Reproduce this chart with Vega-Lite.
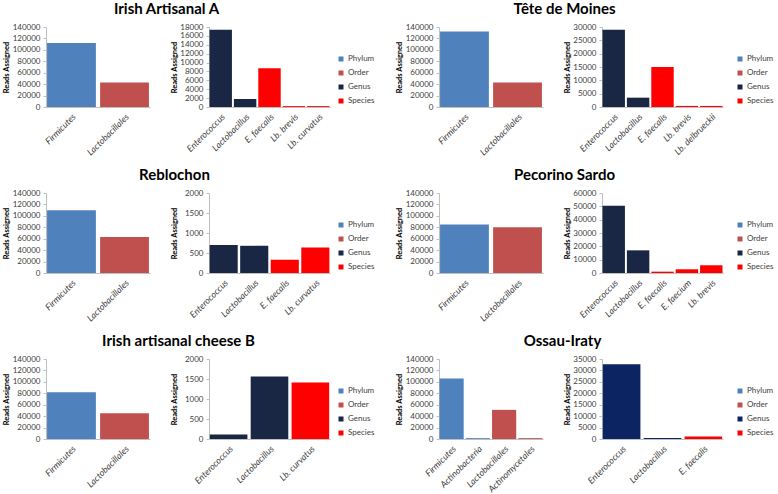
{
  "$schema": "https://vega.github.io/schema/vega-lite/v6.json",
  "padding": {"left": 2, "top": 2, "right": 0, "bottom": 0},
  "background": "white",
  "datasets": {
    "reads": [
      {"cheese": "A", "side": "L", "taxon": "Firmicutes", "level": "Phylum", "reads": 112000},
      {"cheese": "A", "side": "L", "taxon": "Lactobacillales", "level": "Order", "reads": 43000},
      {"cheese": "A", "side": "R", "taxon": "Enterococcus", "level": "Genus", "reads": 17400},
      {"cheese": "A", "side": "R", "taxon": "Lactobacillus", "level": "Genus", "reads": 1800},
      {"cheese": "A", "side": "R", "taxon": "E. faecalis", "level": "Species", "reads": 8700},
      {"cheese": "A", "side": "R", "taxon": "Lb. brevis", "level": "Species", "reads": 200},
      {"cheese": "A", "side": "R", "taxon": "Lb. curvatus", "level": "Species", "reads": 200},
      {"cheese": "T", "side": "L", "taxon": "Firmicutes", "level": "Phylum", "reads": 132000},
      {"cheese": "T", "side": "L", "taxon": "Lactobacillales", "level": "Order", "reads": 43000},
      {"cheese": "T", "side": "R", "taxon": "Enterococcus", "level": "Genus", "reads": 29000},
      {"cheese": "T", "side": "R", "taxon": "Lactobacillus", "level": "Genus", "reads": 3500},
      {"cheese": "T", "side": "R", "taxon": "E. faecalis", "level": "Species", "reads": 15000},
      {"cheese": "T", "side": "R", "taxon": "Lb. brevis", "level": "Species", "reads": 400},
      {"cheese": "T", "side": "R", "taxon": "Lb. delbrueckii", "level": "Species", "reads": 400},
      {"cheese": "R", "side": "L", "taxon": "Firmicutes", "level": "Phylum", "reads": 110000},
      {"cheese": "R", "side": "L", "taxon": "Lactobacillales", "level": "Order", "reads": 63000},
      {"cheese": "R", "side": "R", "taxon": "Enterococcus", "level": "Genus", "reads": 700},
      {"cheese": "R", "side": "R", "taxon": "Lactobacillus", "level": "Genus", "reads": 680},
      {"cheese": "R", "side": "R", "taxon": "E. faecalis", "level": "Species", "reads": 330},
      {"cheese": "R", "side": "R", "taxon": "Lb. curvatus", "level": "Species", "reads": 640},
      {"cheese": "P", "side": "L", "taxon": "Firmicutes", "level": "Phylum", "reads": 85000},
      {"cheese": "P", "side": "L", "taxon": "Lactobacillales", "level": "Order", "reads": 80000},
      {"cheese": "P", "side": "R", "taxon": "Enterococcus", "level": "Genus", "reads": 50500},
      {"cheese": "P", "side": "R", "taxon": "Lactobacillus", "level": "Genus", "reads": 17000},
      {"cheese": "P", "side": "R", "taxon": "E. faecalis", "level": "Species", "reads": 1000},
      {"cheese": "P", "side": "R", "taxon": "E. faecium", "level": "Species", "reads": 2800},
      {"cheese": "P", "side": "R", "taxon": "Lb. brevis", "level": "Species", "reads": 5800},
      {"cheese": "B", "side": "L", "taxon": "Firmicutes", "level": "Phylum", "reads": 82000},
      {"cheese": "B", "side": "L", "taxon": "Lactobacillales", "level": "Order", "reads": 45000},
      {"cheese": "B", "side": "R", "taxon": "Enterococcus", "level": "Genus", "reads": 110},
      {"cheese": "B", "side": "R", "taxon": "Lactobacillus", "level": "Genus", "reads": 1560},
      {"cheese": "B", "side": "R", "taxon": "Lb. curvatus", "level": "Species", "reads": 1410},
      {"cheese": "O", "side": "L", "taxon": "Firmicutes", "level": "Phylum", "reads": 106000},
      {"cheese": "O", "side": "L", "taxon": "Actinobacteria", "level": "Phylum", "reads": 1500},
      {"cheese": "O", "side": "L", "taxon": "Lactobacillales", "level": "Order", "reads": 51000},
      {"cheese": "O", "side": "L", "taxon": "Actinomycetales", "level": "Order", "reads": 1500},
      {"cheese": "O", "side": "R", "taxon": "Enterococcus", "level": "Genus", "reads": 32750},
      {"cheese": "O", "side": "R", "taxon": "Lactobacillus", "level": "Genus", "reads": 400},
      {"cheese": "O", "side": "R", "taxon": "E. faecalis", "level": "Species", "reads": 1100}
    ]
  },
  "resolve": {"scale": {"color": "independent"}, "legend": {"color": "independent"}},
  "spacing": 10,
  "vconcat": [
    {
      "spacing": 20,
      "resolve": {"scale": {"color": "independent"}, "legend": {"color": "independent"}},
      "hconcat": [
        {
          "title": {"text": "Irish Artisanal A", "dx": -22},
          "spacing": 20,
          "resolve": {"scale": {"color": "independent"}, "legend": {"color": "independent"}},
          "hconcat": [
            {"width": 104, "height": 80, "data": {"name": "reads"}, "transform": [{"filter": "datum.cheese == 'A' && datum.side == 'L'"}], "mark": "bar",
             "encoding": {"x": {"field": "taxon", "type": "nominal", "sort": null, "axis": {"title": null}},
              "y": {"field": "reads", "type": "quantitative", "scale": {"domain": [0, 140000]}, "axis": {"values": [0, 20000, 40000, 60000, 80000, 100000, 120000, 140000], "format": "d", "title": "Reads Assigned", "minExtent": 34, "maxExtent": 34, "titlePadding": 2}},
              "color": {"field": "level", "type": "nominal", "scale": {"domain": ["Phylum", "Order", "Genus", "Species"], "range": ["#4F81BD", "#C0504D", "#1A2744", "#FF0000"]}, "legend": null}}},
            {"width": 121, "height": 80, "data": {"name": "reads"}, "transform": [{"filter": "datum.cheese == 'A' && datum.side == 'R'"}], "mark": "bar",
             "encoding": {"x": {"field": "taxon", "type": "nominal", "sort": null, "axis": {"title": null}},
              "y": {"field": "reads", "type": "quantitative", "scale": {"domain": [0, 18000]}, "axis": {"values": [0, 2000, 4000, 6000, 8000, 10000, 12000, 14000, 16000, 18000], "format": "d", "title": "Reads Assigned", "minExtent": 28, "maxExtent": 28, "titlePadding": 3}},
              "color": {"field": "level", "type": "nominal", "scale": {"domain": ["Phylum", "Order", "Genus", "Species"], "range": ["#4F81BD", "#C0504D", "#1A2744", "#FF0000"]}, "legend": {"title": null, "orient": "none", "legendX": 128, "legendY": 28}}}}
          ]
        },
        {
          "title": {"text": "Tête de Moines", "dx": -20},
          "spacing": 20,
          "resolve": {"scale": {"color": "independent"}, "legend": {"color": "independent"}},
          "hconcat": [
            {"width": 104, "height": 80, "data": {"name": "reads"}, "transform": [{"filter": "datum.cheese == 'T' && datum.side == 'L'"}], "mark": "bar",
             "encoding": {"x": {"field": "taxon", "type": "nominal", "sort": null, "axis": {"title": null}},
              "y": {"field": "reads", "type": "quantitative", "scale": {"domain": [0, 140000]}, "axis": {"values": [0, 20000, 40000, 60000, 80000, 100000, 120000, 140000], "format": "d", "title": "Reads Assigned", "minExtent": 34, "maxExtent": 34, "titlePadding": 2}},
              "color": {"field": "level", "type": "nominal", "scale": {"domain": ["Phylum", "Order", "Genus", "Species"], "range": ["#4F81BD", "#C0504D", "#1A2744", "#FF0000"]}, "legend": null}}},
            {"width": 121, "height": 80, "data": {"name": "reads"}, "transform": [{"filter": "datum.cheese == 'T' && datum.side == 'R'"}], "mark": "bar",
             "encoding": {"x": {"field": "taxon", "type": "nominal", "sort": null, "axis": {"title": null}},
              "y": {"field": "reads", "type": "quantitative", "scale": {"domain": [0, 30000]}, "axis": {"values": [0, 5000, 10000, 15000, 20000, 25000, 30000], "format": "d", "title": "Reads Assigned", "minExtent": 28, "maxExtent": 28, "titlePadding": 3}},
              "color": {"field": "level", "type": "nominal", "scale": {"domain": ["Phylum", "Order", "Genus", "Species"], "range": ["#4F81BD", "#C0504D", "#1A2744", "#FF0000"]}, "legend": {"title": null, "orient": "none", "legendX": 134, "legendY": 28}}}}
          ]
        }
      ]
    },
    {
      "spacing": 20,
      "resolve": {"scale": {"color": "independent"}, "legend": {"color": "independent"}},
      "hconcat": [
        {
          "title": {"text": "Reblochon", "dx": -14},
          "spacing": 20,
          "resolve": {"scale": {"color": "independent"}, "legend": {"color": "independent"}},
          "hconcat": [
            {"width": 104, "height": 80, "data": {"name": "reads"}, "transform": [{"filter": "datum.cheese == 'R' && datum.side == 'L'"}], "mark": "bar",
             "encoding": {"x": {"field": "taxon", "type": "nominal", "sort": null, "axis": {"title": null}},
              "y": {"field": "reads", "type": "quantitative", "scale": {"domain": [0, 140000]}, "axis": {"values": [0, 20000, 40000, 60000, 80000, 100000, 120000, 140000], "format": "d", "title": "Reads Assigned", "minExtent": 34, "maxExtent": 34, "titlePadding": 2}},
              "color": {"field": "level", "type": "nominal", "scale": {"domain": ["Phylum", "Order", "Genus", "Species"], "range": ["#4F81BD", "#C0504D", "#1A2744", "#FF0000"]}, "legend": null}}},
            {"width": 121, "height": 80, "data": {"name": "reads"}, "transform": [{"filter": "datum.cheese == 'R' && datum.side == 'R'"}], "mark": "bar",
             "encoding": {"x": {"field": "taxon", "type": "nominal", "sort": null, "axis": {"title": null}},
              "y": {"field": "reads", "type": "quantitative", "scale": {"domain": [0, 2000]}, "axis": {"values": [0, 500, 1000, 1500, 2000], "format": "d", "title": "Reads Assigned", "minExtent": 28, "maxExtent": 28, "titlePadding": 3}},
              "color": {"field": "level", "type": "nominal", "scale": {"domain": ["Phylum", "Order", "Genus", "Species"], "range": ["#4F81BD", "#C0504D", "#1A2744", "#FF0000"]}, "legend": {"title": null, "orient": "none", "legendX": 128, "legendY": 28}}}}
          ]
        },
        {
          "title": {"text": "Pecorino Sardo", "dx": -20},
          "spacing": 20,
          "resolve": {"scale": {"color": "independent"}, "legend": {"color": "independent"}},
          "hconcat": [
            {"width": 104, "height": 80, "data": {"name": "reads"}, "transform": [{"filter": "datum.cheese == 'P' && datum.side == 'L'"}], "mark": "bar",
             "encoding": {"x": {"field": "taxon", "type": "nominal", "sort": null, "axis": {"title": null}},
              "y": {"field": "reads", "type": "quantitative", "scale": {"domain": [0, 140000]}, "axis": {"values": [0, 20000, 40000, 60000, 80000, 100000, 120000, 140000], "format": "d", "title": "Reads Assigned", "minExtent": 34, "maxExtent": 34, "titlePadding": 2}},
              "color": {"field": "level", "type": "nominal", "scale": {"domain": ["Phylum", "Order", "Genus", "Species"], "range": ["#4F81BD", "#C0504D", "#1A2744", "#FF0000"]}, "legend": null}}},
            {"width": 121, "height": 80, "data": {"name": "reads"}, "transform": [{"filter": "datum.cheese == 'P' && datum.side == 'R'"}], "mark": "bar",
             "encoding": {"x": {"field": "taxon", "type": "nominal", "sort": null, "axis": {"title": null}},
              "y": {"field": "reads", "type": "quantitative", "scale": {"domain": [0, 60000]}, "axis": {"values": [0, 10000, 20000, 30000, 40000, 50000, 60000], "format": "d", "title": "Reads Assigned", "minExtent": 28, "maxExtent": 28, "titlePadding": 3}},
              "color": {"field": "level", "type": "nominal", "scale": {"domain": ["Phylum", "Order", "Genus", "Species"], "range": ["#4F81BD", "#C0504D", "#1A2744", "#FF0000"]}, "legend": {"title": null, "orient": "none", "legendX": 134, "legendY": 28}}}}
          ]
        }
      ]
    },
    {
      "spacing": 20,
      "resolve": {"scale": {"color": "independent"}, "legend": {"color": "independent"}},
      "hconcat": [
        {
          "title": {"text": "Irish artisanal cheese B", "dx": -10},
          "spacing": 20,
          "resolve": {"scale": {"color": "independent"}, "legend": {"color": "independent"}},
          "hconcat": [
            {"width": 104, "height": 80, "data": {"name": "reads"}, "transform": [{"filter": "datum.cheese == 'B' && datum.side == 'L'"}], "mark": "bar",
             "encoding": {"x": {"field": "taxon", "type": "nominal", "sort": null, "axis": {"title": null}},
              "y": {"field": "reads", "type": "quantitative", "scale": {"domain": [0, 140000]}, "axis": {"values": [0, 20000, 40000, 60000, 80000, 100000, 120000, 140000], "format": "d", "title": "Reads Assigned", "minExtent": 34, "maxExtent": 34, "titlePadding": 2}},
              "color": {"field": "level", "type": "nominal", "scale": {"domain": ["Phylum", "Order", "Genus", "Species"], "range": ["#4F81BD", "#C0504D", "#1A2744", "#FF0000"]}, "legend": null}}},
            {"width": 121, "height": 80, "data": {"name": "reads"}, "transform": [{"filter": "datum.cheese == 'B' && datum.side == 'R'"}], "mark": "bar",
             "encoding": {"x": {"field": "taxon", "type": "nominal", "sort": null, "axis": {"title": null}},
              "y": {"field": "reads", "type": "quantitative", "scale": {"domain": [0, 2000]}, "axis": {"values": [0, 500, 1000, 1500, 2000], "format": "d", "title": "Reads Assigned", "minExtent": 28, "maxExtent": 28, "titlePadding": 3}},
              "color": {"field": "level", "type": "nominal", "scale": {"domain": ["Phylum", "Order", "Genus", "Species"], "range": ["#4F81BD", "#C0504D", "#1A2744", "#FF0000"]}, "legend": {"title": null, "orient": "none", "legendX": 128, "legendY": 28}}}}
          ]
        },
        {
          "title": {"text": "Ossau-Iraty", "dx": -22},
          "spacing": 20,
          "resolve": {"scale": {"color": "independent"}, "legend": {"color": "independent"}},
          "hconcat": [
            {"width": 104, "height": 80, "data": {"name": "reads"}, "transform": [{"filter": "datum.cheese == 'O' && datum.side == 'L'"}], "mark": "bar",
             "encoding": {"x": {"field": "taxon", "type": "nominal", "sort": null, "axis": {"title": null}},
              "y": {"field": "reads", "type": "quantitative", "scale": {"domain": [0, 140000]}, "axis": {"values": [0, 20000, 40000, 60000, 80000, 100000, 120000, 140000], "format": "d", "title": "Reads Assigned", "minExtent": 34, "maxExtent": 34, "titlePadding": 2}},
              "color": {"field": "level", "type": "nominal", "scale": {"domain": ["Phylum", "Order", "Genus", "Species"], "range": ["#4F81BD", "#C0504D", "#0D2462", "#FF0000"]}, "legend": null}}},
            {"width": 121, "height": 80, "data": {"name": "reads"}, "transform": [{"filter": "datum.cheese == 'O' && datum.side == 'R'"}], "mark": "bar",
             "encoding": {"x": {"field": "taxon", "type": "nominal", "sort": null, "axis": {"title": null}},
              "y": {"field": "reads", "type": "quantitative", "scale": {"domain": [0, 35000]}, "axis": {"values": [0, 5000, 10000, 15000, 20000, 25000, 30000, 35000], "format": "d", "title": "Reads Assigned", "minExtent": 28, "maxExtent": 28, "titlePadding": 3}},
              "color": {"field": "level", "type": "nominal", "scale": {"domain": ["Phylum", "Order", "Genus", "Species"], "range": ["#4F81BD", "#C0504D", "#0D2462", "#FF0000"]}, "legend": {"title": null, "orient": "none", "legendX": 134, "legendY": 28}}}}
          ]
        }
      ]
    }
  ],
  "config": {
    "view": {"stroke": null},
    "font": "Lato",
    "axis": {"grid": false, "domainColor": "#BFBFBF", "tickColor": "#BFBFBF", "labelFont": "Lato", "labelColor": "#404040", "labelFontSize": 8, "titleFont": "Lato", "titleFontSize": 7.5, "titleColor": "#000000", "titleFontWeight": "bold"},
    "axisX": {"ticks": false, "labelAngle": -45, "labelFontStyle": "italic", "labelFontSize": 9, "labelPadding": 5, "minExtent": 48, "maxExtent": 48, "labelAlign": "right", "labelBaseline": "top"},
    "axisY": {"tickSize": 3, "labelPadding": 3},
    "title": {"font": "Lato", "fontSize": 15, "fontWeight": "bold", "color": "#000000", "anchor": "middle", "offset": 6},
    "legend": {"labelFont": "Lato", "labelFontSize": 8, "labelColor": "#404040", "labelOffset": 3, "symbolType": "square", "symbolSize": 25, "symbolStrokeWidth": 0, "rowPadding": 6},
    "scale": {"bandPaddingInner": 0.08, "bandPaddingOuter": 0.02}
  }
}
